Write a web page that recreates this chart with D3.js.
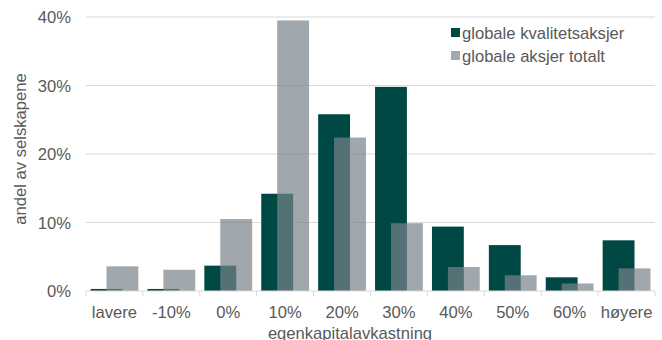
<!DOCTYPE html>
<html>
<head>
<meta charset="utf-8">
<script src="https://cdn.jsdelivr.net/npm/d3@7"></script>
<style>
  body { margin: 0; background: #fff; }
  text { font-family: "Liberation Sans", Arial, sans-serif; fill: #595959; }
</style>
</head>
<body>
<div id="chart"></div>
<script>
// data
const categories = ["lavere", "-10%", "0%", "10%", "20%", "30%", "40%", "50%", "60%", "høyere"];
const kvalitet = [0.3, 0.3, 3.7, 14.2, 25.8, 29.8, 9.4, 6.7, 2.0, 7.4];
const totalt = [3.6, 3.1, 10.5, 39.5, 22.4, 9.9, 3.5, 2.3, 1.1, 3.3];
const yTicks = [0, 10, 20, 30, 40];
const seriesNames = ["globale kvalitetsaksjer", "globale aksjer totalt"];

const width = 662, height = 340;
const margin = {top: 17, right: 7, bottom: 49, left: 86};
const fs = 16.6;

const svg = d3.select("#chart").append("svg")
    .attr("width", width)
    .attr("height", height);

const x = d3.scaleBand()
    .domain(categories)
    .range([margin.left, width - margin.right]);

const y = d3.scaleLinear()
    .domain([0, 40])
    .range([height - margin.bottom, margin.top]);

// gridlines
svg.append("g")
    .selectAll("line")
    .data(yTicks.slice(1))
    .enter().append("line")
    .attr("x1", margin.left).attr("x2", width - margin.right)
    .attr("y1", d => y(d)).attr("y2", d => y(d))
    .attr("stroke", "#d9d9d9").attr("stroke-width", 1);

const barW = x.bandwidth() * 0.56;
const pad = (x.bandwidth() - barW * 1.5) / 2;

// dark bars
svg.append("g")
    .selectAll("rect")
    .data(kvalitet)
    .enter().append("rect")
    .attr("x", (d, i) => x(categories[i]) + pad)
    .attr("y", d => y(d))
    .attr("width", barW)
    .attr("height", d => y(0) - y(d))
    .attr("fill", "#004843");

// grey bars, semi transparent, shifted half a bar
svg.append("g")
    .selectAll("rect")
    .data(totalt)
    .enter().append("rect")
    .attr("x", (d, i) => x(categories[i]) + pad + barW / 2)
    .attr("y", d => y(d))
    .attr("width", barW)
    .attr("height", d => y(0) - y(d))
    .attr("fill", "#78838a")
    .attr("fill-opacity", 0.7);

// x axis
const xAxis = svg.append("g")
    .attr("transform", "translate(0," + y(0) + ")");
xAxis.append("line")
    .attr("x1", margin.left).attr("x2", width - margin.right)
    .attr("stroke", "#d9d9d9");
xAxis.selectAll(".tk")
    .data(categories.concat([null]))
    .enter().append("line")
    .attr("x1", (d, i) => margin.left + i * x.step())
    .attr("x2", (d, i) => margin.left + i * x.step())
    .attr("y1", 0).attr("y2", 5)
    .attr("stroke", "#d9d9d9");
xAxis.selectAll("text")
    .data(categories)
    .enter().append("text")
    .attr("x", d => x(d) + x.bandwidth() / 2)
    .attr("y", 27)
    .attr("text-anchor", "middle")
    .attr("font-size", fs)
    .text(d => d);

// y labels
svg.append("g")
    .selectAll("text")
    .data(yTicks)
    .enter().append("text")
    .attr("x", 71)
    .attr("y", d => y(d) + 6)
    .attr("text-anchor", "end")
    .attr("font-size", fs)
    .text(d => d + "%");

// axis titles
svg.append("text")
    .attr("transform", "translate(26,149) rotate(-90)")
    .attr("text-anchor", "middle")
    .attr("font-size", fs)
    .text("andel av selskapene");

svg.append("text")
    .attr("x", 350)
    .attr("y", 339)
    .attr("text-anchor", "middle")
    .attr("font-size", fs)
    .text("egenkapitalavkastning");

// legend
const legend = svg.append("g");
const legendColors = ["#004843", "#a2a8ae"];
seriesNames.forEach((name, i) => {
    legend.append("rect")
        .attr("x", 451).attr("y", 28 + i * 23)
        .attr("width", 9).attr("height", 9)
        .attr("fill", legendColors[i]);
    legend.append("text")
        .attr("x", 462).attr("y", 38.5 + i * 23)
        .attr("font-size", fs)
        .text(name);
});
</script>
</body>
</html>
